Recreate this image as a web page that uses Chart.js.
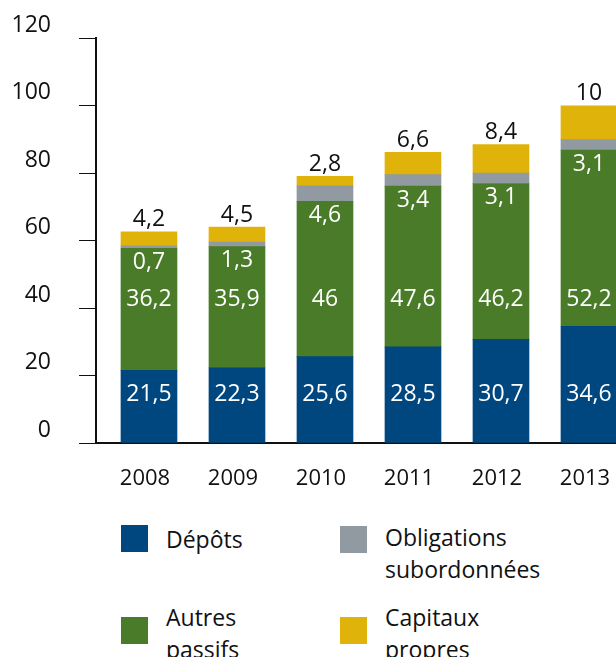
<!DOCTYPE html>
<html lang="fr">
<head>
<meta charset="utf-8">
<title>Passifs 2008-2013</title>
<script src="https://cdn.jsdelivr.net/npm/chart.js@4.4.1/dist/chart.umd.min.js"></script>
<style>
  body { margin: 0; background: #fff; overflow: hidden; }
  #wrap { position: relative; width: 616px; height: 657px; font-family: "Open Sans", sans-serif; }
  #chartBox { position: absolute; left: 0; top: 0; width: 616px; height: 500px; }
  .sw { position: absolute; width: 27px; height: 27px; }
  .lt { position: absolute; font-size: 23px; line-height: 32px; color: #111; }
</style>
</head>
<body>
<div id="wrap">
  <div id="chartBox"><canvas id="myChart"></canvas></div>
  <div class="sw" style="left:121px;top:525px;background:#00477f"></div>
  <div class="lt" style="left:166px;top:523px">Dépôts</div>
  <div class="sw" style="left:340px;top:526px;background:#929aa1"></div>
  <div class="lt" style="left:385px;top:521px">Obligations<br>subordonnées</div>
  <div class="sw" style="left:121px;top:617px;background:#4a7b28"></div>
  <div class="lt" style="left:166px;top:601px">Autres<br>passifs</div>
  <div class="sw" style="left:340px;top:617px;background:#e0b30a"></div>
  <div class="lt" style="left:385px;top:601px">Capitaux<br>propres</div>
</div>
<script>
// Data
var years = ['2008', '2009', '2010', '2011', '2012', '2013'];
var depots = [21.5, 22.3, 25.6, 28.5, 30.7, 34.6];
var autresPassifs = [36.2, 35.9, 46, 47.6, 46.2, 52.2];
var obligations = [0.7, 1.3, 4.6, 3.4, 3.1, 3.1];
var capitaux = [4.2, 4.5, 2.8, 6.6, 8.4, 10];
var yTicks = [0, 20, 40, 60, 80, 100, 120];

var FONT = { family: '"Open Sans", sans-serif', size: 23 };
var FONT_X = { family: '"Open Sans", sans-serif', size: 22 };

function fmt(v) {
    return String(v).replace('.', ',');
}

// Draws the numbers on / above the bars
var valueLabels = {
    id: 'valueLabels',
    afterDatasetsDraw: function(chart) {
        var ctx = chart.ctx;
        var y = chart.scales.y;
        var metaDep = chart.getDatasetMeta(0);
        var metaAut = chart.getDatasetMeta(1);
        var metaCap = chart.getDatasetMeta(3);
        ctx.save();
        ctx.font = FONT.size + 'px ' + FONT.family;
        ctx.textAlign = 'center';
        ctx.textBaseline = 'middle';
        for (var i = 0; i < years.length; i++) {
            var x = metaDep.data[i].x;
            ctx.fillStyle = '#fff';
            ctx.fillText(fmt(depots[i]), x, y.getPixelForValue(14.3));
            ctx.fillText(fmt(autresPassifs[i]), x, y.getPixelForValue(42.6));
            ctx.fillText(fmt(obligations[i]), x, metaAut.data[i].y + 14);
            ctx.fillStyle = '#111';
            ctx.fillText(fmt(capitaux[i]), x, metaCap.data[i].y - 12);
        }
        ctx.restore();
    }
};

var ctx = document.getElementById('myChart').getContext('2d');
var myChart = new Chart(ctx, {
    type: 'bar',
    data: {
        labels: years,
        datasets: [
            { label: 'Dépôts', data: depots, backgroundColor: '#00477f' },
            { label: 'Autres passifs', data: autresPassifs, backgroundColor: '#4a7b28' },
            { label: 'Obligations subordonnées', data: obligations, backgroundColor: '#929aa1' },
            { label: 'Capitaux propres', data: capitaux, backgroundColor: '#e0b30a' }
        ]
    },
    plugins: [valueLabels],
    options: {
        responsive: true,
        maintainAspectRatio: false,
        animation: false,
        layout: { padding: { top: 38, left: 0, right: 0, bottom: 0 } },
        datasets: { bar: { barThickness: 56, borderWidth: 0 } },
        plugins: {
            legend: { display: false },
            tooltip: { enabled: false }
        },
        scales: {
            x: {
                type: 'linear',
                stacked: true,
                offset: false,
                min: 2007.398,
                max: 2013.307,
                grid: { display: false, offset: false },
                border: { display: true, color: '#111', width: 2 },
                afterFit: function(s) {
                    s.height = 57;
                    s.paddingLeft = 0;
                    s.paddingRight = 0;
                },
                ticks: {
                    stepSize: 1,
                    includeBounds: false,
                    autoSkip: false,
                    maxRotation: 0,
                    padding: 15,
                    labelOffset: -4,
                    color: '#111',
                    font: FONT_X,
                    callback: function(v) {
                        return Number.isInteger(v) ? String(v) : '';
                    }
                }
            },
            y: {
                stacked: true,
                min: 0,
                max: 120,
                afterBuildTicks: function(s) {
                    s.ticks = yTicks.map(function(v) { return { value: v }; });
                },
                afterFit: function(s) {
                    s.width = 96;
                    s.paddingTop = 0;
                    s.paddingBottom = 0;
                },
                grid: {
                    drawOnChartArea: false,
                    drawTicks: true,
                    tickLength: 17,
                    color: '#111',
                    lineWidth: 1
                },
                border: { display: true, color: '#111', width: 2 },
                ticks: {
                    padding: 28,
                    labelOffset: -13,
                    color: '#111',
                    font: FONT
                }
            }
        }
    }
});
</script>
</body>
</html>
